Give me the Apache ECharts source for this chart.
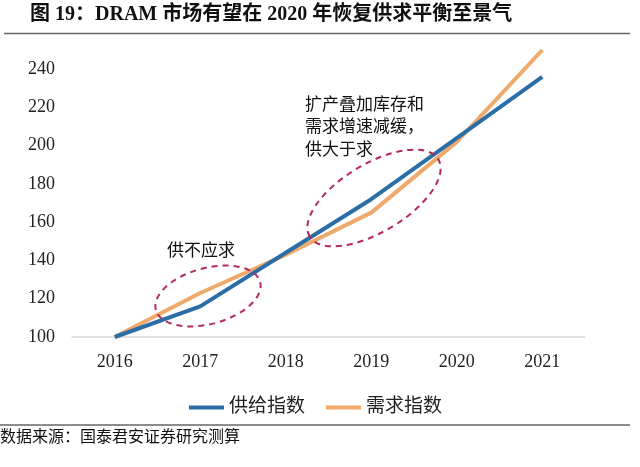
<!DOCTYPE html>
<html>
<head>
<meta charset="utf-8">
<script src="https://cdn.jsdelivr.net/npm/echarts@6/dist/echarts.min.js"></script>
<style>html,body{margin:0;padding:0;background:#fff}#c{width:640px;height:467px}</style>
</head>
<body>
<div id="c"></div>
<script>
var years = ['2016', '2017', '2018', '2019', '2020', '2021'];
var supplyIndex = [100, 116, 144, 172, 204, 236];
var demandIndex = [100, 123, 143, 165, 202, 250];
var seriesNames = ['供给指数', '需求指数'];
var yMin = 100, yMax = 250, yStep = 20;
var titleText = '图 19：DRAM 市场有望在 2020 年恢复供求平衡至景气';
var sourceText = '数据来源：国泰君安证券研究测算';
var noteA = '供不应求';
var noteB = '扩产叠加库存和\n需求增速减缓，\n供大于求';

var FONT = '"Liberation Serif", "Noto Sans CJK SC", serif';
var chart = echarts.init(document.getElementById('c'));
var ellipseColor = '#b5295e';
chart.setOption({
  animation: false,
  grid: {left: 72, right: 55, top: 50, bottom: 130},
  legend: {
    data: seriesNames,
    left: 184, top: 393,
    icon: 'rect', itemWidth: 35, itemHeight: 4, itemGap: 21,
    textStyle: {fontSize: 19, color: '#222', fontFamily: FONT}
  },
  xAxis: {
    type: 'category', data: years, boundaryGap: true,
    axisLine: {lineStyle: {color: '#d9d9d9', width: 1.5}},
    axisTick: {show: false},
    axisLabel: {fontSize: 18, color: '#222', fontFamily: FONT, margin: 16}
  },
  yAxis: {
    type: 'value', min: yMin, max: yMax, interval: yStep,
    axisLine: {show: false}, axisTick: {show: false}, splitLine: {show: false},
    axisLabel: {fontSize: 18, color: '#222', fontFamily: FONT, margin: 17, showMaxLabel: false}
  },
  series: [
    {name: seriesNames[0], type: 'line', data: supplyIndex, symbol: 'none',
     lineStyle: {width: 4, color: '#2b6ea6'}, itemStyle: {color: '#2b6ea6'}, z: 3},
    {name: seriesNames[1], type: 'line', data: demandIndex, symbol: 'none',
     lineStyle: {width: 4, color: '#eea96b'}, itemStyle: {color: '#eea96b'}, z: 2}
  ],
  graphic: [
    {type: 'text', left: 30, top: 5, style: {text: titleText, font: 'bold 20px ' + FONT, fill: '#111'}},
    {type: 'line', shape: {x1: 4, y1: 33.5, x2: 630, y2: 33.5}, style: {stroke: '#666', lineWidth: 1.5}},
    {type: 'line', shape: {x1: 0, y1: 425, x2: 630, y2: 425}, style: {stroke: '#666', lineWidth: 1.5}},
    {type: 'text', left: 0, top: 430, style: {text: sourceText, font: '16px ' + FONT, fill: '#111'}},
    {type: 'text', left: 167, top: 243, style: {text: noteA, font: '17px ' + FONT, fill: '#111'}},
    {type: 'text', left: 305, top: 94, style: {text: noteB, font: '17px ' + FONT, fill: '#111', lineHeight: 22.5}},
    {type: 'ellipse', x: 208, y: 296, rotation: 15 * Math.PI / 180, shape: {cx: 0, cy: 0, rx: 54, ry: 28},
     style: {fill: 'none', stroke: ellipseColor, lineWidth: 2, lineDash: [6, 5]}, z: 10},
    {type: 'ellipse', x: 374, y: 198, rotation: 31 * Math.PI / 180, shape: {cx: 0, cy: 0, rx: 75, ry: 34},
     style: {fill: 'none', stroke: ellipseColor, lineWidth: 2, lineDash: [6, 5]}, z: 10}
  ]
});
</script>
</body>
</html>
